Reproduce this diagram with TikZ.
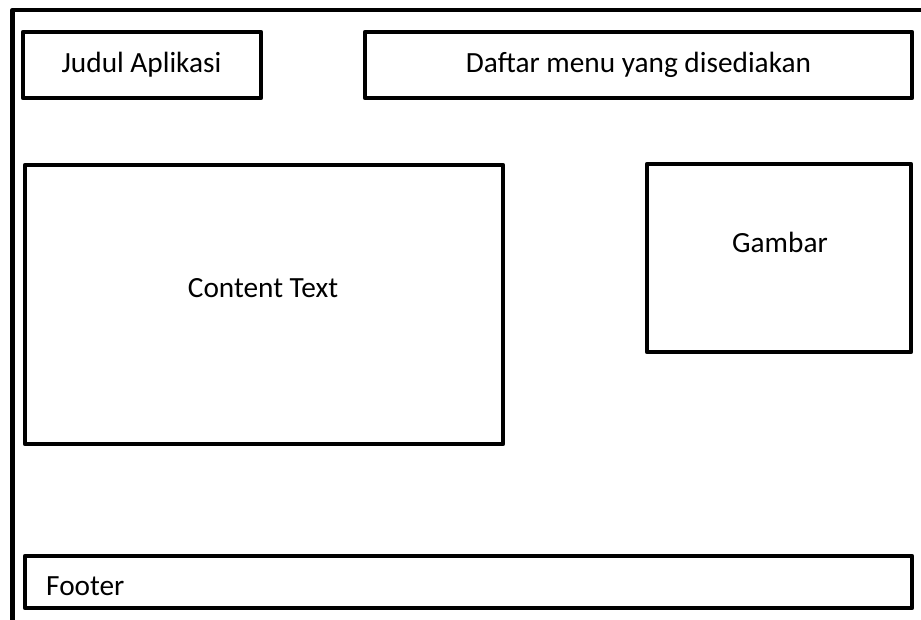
\documentclass[tikz,border=0pt]{standalone}
\usepackage{fontspec}
\setmainfont{Carlito}
\begin{document}
\begin{tikzpicture}[x=1pt,y=-1pt,
  frame/.style={draw=black,line width=4.5pt,line join=round,rectangle,inner sep=0pt,outer sep=0pt},
  caption/.style={font=\fontsize{29.3}{35}\selectfont,inner sep=0pt,text=black}]
  \clip (0,0) rectangle (921,619);
  \fill[white] (0,0) rectangle (921,619);
  % page outline, running off the right and bottom edges
  \coordinate (pgTR) at (930,10);
  \coordinate (pgTL) at (12.5,10);
  \coordinate (pgBL) at (12.5,630);
  \draw[line width=4.5pt,line join=round] (pgTR) -- (pgTL) -- (pgBL);
  % layout blocks
  \node[frame,minimum width=238pt,minimum height=66pt] (judul) at (142,65) {};
  \node[frame,minimum width=547pt,minimum height=66pt] (menu) at (638.5,65) {};
  \node[frame,minimum width=478pt,minimum height=279pt] (content) at (264,304.5) {};
  \node[frame,minimum width=264pt,minimum height=188pt] (gambar) at (779,258) {};
  \node[frame,minimum width=887pt,minimum height=52pt] (footer) at (468.5,582) {};
  % labels
  \node[caption,anchor=base] (tjudul) at (141.5,72) {Judul Aplikasi};
  \node[caption,anchor=base] (tmenu) at (638.5,72) {Daftar menu yang disediakan};
  \node[caption,anchor=base] (tcontent) at (263,297) {Content Text};
  \node[caption,anchor=base] (tgambar) at (780,252) {Gambar};
  \node[caption,anchor=base west] (tfooter) at (46,595) {Footer};
\end{tikzpicture}
\end{document}
